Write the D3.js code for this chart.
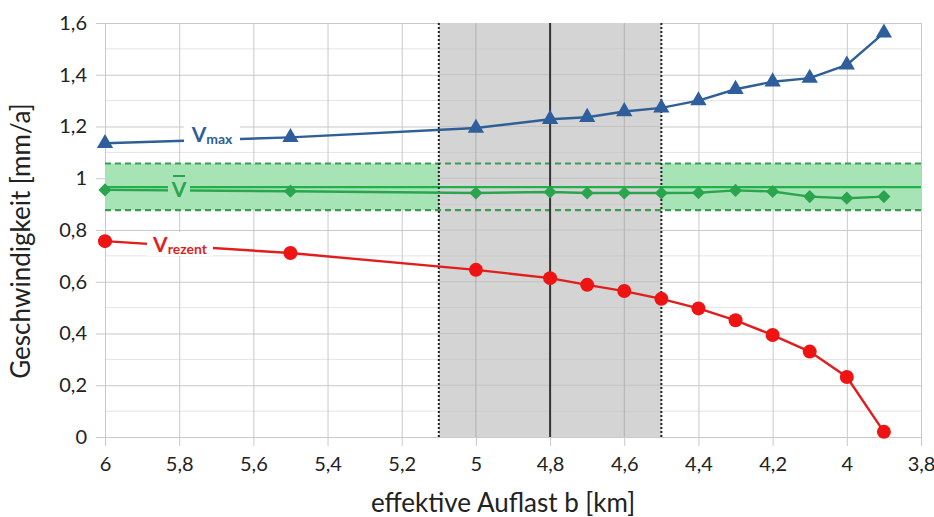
<!DOCTYPE html>
<html>
<head>
<meta charset="utf-8">
<script src="https://cdn.jsdelivr.net/npm/d3@7"></script>
<style>
  body { margin: 0; background: #fff; }
  text { font-family: Lato, "Open Sans", sans-serif; }
</style>
</head>
<body>
<script>
// effektive Auflast b [km]
const auflast = [6, 5.5, 5.0, 4.8, 4.7, 4.6, 4.5, 4.4, 4.3, 4.2, 4.1, 4.0, 3.9];
const vMax    = [1.135, 1.158, 1.194, 1.228, 1.236, 1.258, 1.272, 1.300, 1.344, 1.373, 1.387, 1.438, 1.562];
const vMittel = [0.955, 0.950, 0.943, 0.947, 0.943, 0.943, 0.943, 0.944, 0.953, 0.949, 0.929, 0.923, 0.929];
const vRezent = [0.757, 0.711, 0.646, 0.614, 0.588, 0.564, 0.534, 0.497, 0.451, 0.394, 0.330, 0.232, 0.020];

const vMean = 0.966;
const band = [0.877, 1.057];
const grauBereich = [5.1, 4.5];
const mitte = 4.8;

const xTicks = [6, 5.8, 5.6, 5.4, 5.2, 5, 4.8, 4.6, 4.4, 4.2, 4, 3.8];
const yTicks = [0, 0.2, 0.4, 0.6, 0.8, 1, 1.2, 1.4, 1.6];
const yMinor = [0.1, 0.3, 0.5, 0.7, 0.9, 1.1, 1.3, 1.5];

const width = 934, height = 517;
const svg = d3.select("body").append("svg")
    .attr("width", width)
    .attr("height", height);

const x = d3.scaleLinear().domain([6, 3.8]).range([105, 921]);
const y = d3.scaleLinear().domain([0, 1.6]).range([437, 23]);

const fmt = d3.formatLocale({decimal: ",", thousands: ".", grouping: [3], currency: ["", ""]}).format("~g");

// minor horizontal grid
svg.append("g").selectAll("line").data(yMinor).join("line")
    .attr("x1", x(6)).attr("x2", x(3.8))
    .attr("y1", d => y(d)).attr("y2", d => y(d))
    .attr("stroke", "#e3e3e3").attr("stroke-width", 1);

// major grid via axes
const xAxis = svg.append("g")
    .attr("transform", `translate(0,${y(0)})`)
    .call(d3.axisBottom(x).tickValues(xTicks).tickFormat(fmt)
        .tickSize(-(y(0) - y(1.6))).tickSizeOuter(0).tickPadding(20));
xAxis.select(".domain").remove();
xAxis.selectAll(".tick line").attr("stroke", "#c9c9c9").attr("y1", 9);
xAxis.selectAll(".tick text").attr("font-size", 20).attr("fill", "#222");

const yAxis = svg.append("g")
    .attr("transform", `translate(${x(6)},0)`)
    .call(d3.axisLeft(y).tickValues(yTicks).tickFormat(fmt)
        .tickSize(-(x(3.8) - x(6))).tickSizeOuter(0).tickPadding(18));
yAxis.select(".domain").remove();
yAxis.selectAll(".tick line").attr("stroke", "#c9c9c9").attr("x1", -9);
yAxis.selectAll(".tick text").attr("font-size", 20).attr("fill", "#222");

// green band
svg.append("rect")
    .attr("x", x(6)).attr("width", x(3.8) - x(6))
    .attr("y", y(band[1])).attr("height", y(band[0]) - y(band[1]))
    .attr("fill", "#a6e4b6");

// grey region
svg.append("rect")
    .attr("x", x(grauBereich[0])).attr("width", x(grauBereich[1]) - x(grauBereich[0]))
    .attr("y", y(1.6)).attr("height", y(0) - y(1.6))
    .attr("fill", "#d4d4d4");

// grid lines re-drawn inside grey region
svg.append("g").selectAll("line").data(yTicks.filter(d => d > 0 && d < 1.6)).join("line")
    .attr("x1", x(grauBereich[0])).attr("x2", x(grauBereich[1]))
    .attr("y1", d => y(d)).attr("y2", d => y(d))
    .attr("stroke", "#c2c2c2");
svg.append("g").selectAll("line").data(yMinor).join("line")
    .attr("x1", x(grauBereich[0])).attr("x2", x(grauBereich[1]))
    .attr("y1", d => y(d)).attr("y2", d => y(d))
    .attr("stroke", "#cbcbcb");
svg.append("g").selectAll("line").data([5, 4.6]).join("line")
    .attr("x1", d => x(d)).attr("x2", d => x(d))
    .attr("y1", y(0)).attr("y2", y(1.6))
    .attr("stroke", "#b0b0b0");

// dashed band edges and mean line
svg.append("g").selectAll("line").data(band).join("line")
    .attr("x1", x(6)).attr("x2", x(3.8))
    .attr("y1", d => y(d)).attr("y2", d => y(d))
    .attr("stroke", "#3c9a52").attr("stroke-width", 2.2)
    .attr("stroke-dasharray", "6,4");
svg.append("line")
    .attr("x1", x(6)).attr("x2", x(3.8))
    .attr("y1", y(vMean)).attr("y2", y(vMean))
    .attr("stroke", "#22b04a").attr("stroke-width", 2.2);

// grey region borders
svg.append("g").selectAll("line").data(grauBereich).join("line")
    .attr("x1", d => x(d)).attr("x2", d => x(d))
    .attr("y1", y(0)).attr("y2", y(1.6))
    .attr("stroke", "#222").attr("stroke-width", 2)
    .attr("stroke-dasharray", "2,2");
svg.append("line")
    .attr("x1", x(mitte)).attr("x2", x(mitte))
    .attr("y1", y(0)).attr("y2", y(1.6))
    .attr("stroke", "#333").attr("stroke-width", 2);

const line = d3.line().x(d => x(d[0])).y(d => y(d[1]));

function series(vals, color, width) {
    const pts = auflast.map((a, i) => [a, vals[i]]);
    svg.append("path").datum(pts)
        .attr("d", line)
        .attr("fill", "none")
        .attr("stroke", color)
        .attr("stroke-width", width);
    return pts;
}

const maxPts = series(vMax, "#2f5f95", 2.4);
const mitPts = series(vMittel, "#2aa54e", 2.4);
const rezPts = series(vRezent, "#e01e1e", 2.4);

svg.append("g").selectAll("path").data(maxPts).join("path")
    .attr("transform", d => `translate(${x(d[0])},${y(d[1])})`)
    .attr("d", d3.symbol(d3.symbolTriangle, 115))
    .attr("fill", "#2e5f9c");
svg.append("g").selectAll("path").data(mitPts).join("path")
    .attr("transform", d => `translate(${x(d[0])},${y(d[1])})`)
    .attr("d", d3.symbol(d3.symbolDiamond2, 110))
    .attr("fill", "#2aa54e");
svg.append("g").selectAll("circle").data(rezPts).join("circle")
    .attr("cx", d => x(d[0])).attr("cy", d => y(d[1]))
    .attr("r", 7)
    .attr("fill", "#ee1414");

// series labels
function label(cx, cy, main, sub, color, bg, w) {
    svg.append("rect")
        .attr("x", cx - w / 2).attr("y", cy - 13)
        .attr("width", w).attr("height", 24)
        .attr("fill", bg);
    const t = svg.append("text")
        .attr("x", cx).attr("y", cy + 7)
        .attr("text-anchor", "middle")
        .attr("fill", color)
        .attr("font-weight", "bold");
    t.append("tspan").attr("font-size", 21).text(main);
    if (sub) t.append("tspan").attr("font-size", 14).attr("dy", 2).text(sub);
    return t;
}
label(212, 135, "V", "max", "#2f5f95", "#fff", 56);
label(179, 190, "V", null, "#2aa54e", "#a6e4b6", 22);
svg.append("line")
    .attr("x1", 173).attr("x2", 185)
    .attr("y1", 176).attr("y2", 176)
    .attr("stroke", "#2aa54e").attr("stroke-width", 2);
label(180, 245, "V", "rezent", "#e01e1e", "#fff", 66);

// axis titles
svg.append("text")
    .attr("x", 503).attr("y", 512)
    .attr("text-anchor", "middle")
    .attr("font-size", 26).attr("fill", "#222")
    .text("effektive Auflast b [km]");
svg.append("text")
    .attr("transform", `translate(30,241) rotate(-90)`)
    .attr("text-anchor", "middle")
    .attr("font-size", 26).attr("fill", "#222")
    .text("Geschwindigkeit [mm/a]");
</script>
</body>
</html>
